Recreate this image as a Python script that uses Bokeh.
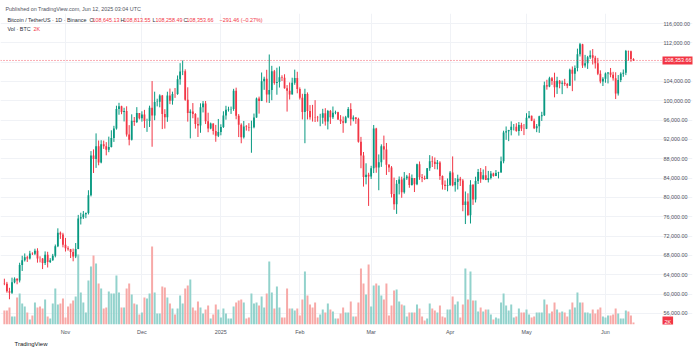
import pandas as pd
from bokeh.plotting import figure
from bokeh.models import (Range1d, ColumnDataSource, FixedTicker, NumeralTickFormatter,
                          DatetimeTickFormatter, Label, Span, Title)
from bokeh.embed import file_html
from bokeh.resources import INLINE

# ---------------- data (BTCUSDT, Binance, 1D) ----------------
dates = pd.date_range("2024-10-08", "2025-06-12", freq="D")

opens = [
    # Oct
    62224, 62131, 60583, 60274, 62445, 63193, 62851, 66046, 67041, 67612, 67399, 68418, 68362, 69001, 67367, 67361, 66432, 68161, 66642, 67014, 67929, 69907, 72720, 72339,
    # Nov
    70215, 69482, 69289, 68741, 67811, 69359, 75639, 75904, 76545, 76778, 80474, 88701, 87955, 90585, 87250, 91032, 90587, 89855, 90464, 92310, 94287, 98318, 98893, 97673, 97900, 93010, 91966, 95863, 95644, 97461,
    # Dec
    96407, 97185, 95840, 95849, 98587, 96945, 99740, 99831, 101109, 97276, 96593, 101125, 100000, 101424, 101420, 104463, 106058, 106133, 100204, 97461, 97805, 97291, 95186, 94881, 98663, 99429, 95791, 94299, 95300, 93738, 92792,
    # Jan
    93576, 94591, 96984, 98174, 98236, 98314, 102078, 96922, 95043, 92484, 94701, 94566, 94488, 94516, 96534, 100504, 99987, 104077, 104556, 101331, 102260, 106143, 103706, 103910, 104871, 104796, 102620, 102082, 101335, 103733, 104722,
    # Feb
    102429, 100635, 97700, 101406, 97871, 96615, 96593, 96529, 96482, 96500, 97437, 95748, 97882, 96624, 97509, 97627, 96118, 95780, 95467, 96579, 98305, 96181, 96551, 96258, 91552, 88680, 84250, 84708,
    # Mar
    84350, 86065, 94270, 86220, 87281, 90606, 89931, 86801, 86222, 80735, 78600, 82862, 83722, 81066, 83969, 84343, 82580, 84010, 82716, 86854, 84167, 84043, 83832, 86054, 87498, 87392, 86909, 87232, 84424, 82649, 82390,
    # Apr
    82548, 85159, 82516, 83213, 83889, 83538, 78430, 79163, 76322, 82615, 79607, 83423, 85276, 83760, 84591, 83643, 84030, 84947, 84474, 85077, 85179, 87516, 93442, 93691, 93980, 94638, 94660, 93754, 94978, 94284,
    # May
    94207, 96492, 96910, 95891, 94315, 94748, 96802, 97033, 103242, 102971, 104696, 104106, 102812, 104169, 103539, 103744, 103489, 103126, 106454, 105606, 106791, 109643, 111696, 107318, 107761, 109004, 109434, 108938, 107781, 105589, 103985,
    # Jun
    104591, 105642, 105857, 105376, 104696, 101508, 104288, 105615, 105793, 110295, 110257, 108645.13,
]

highs = [
    63200, 62543, 61320, 63417, 63480, 63285, 66500, 67950, 68424, 67939, 68969, 68667, 69400, 69500, 67836, 67451, 68850, 68770, 67454, 68332, 70270, 73620, 72961, 72700,
    71632, 69914, 69362, 69433, 70577, 76400, 76849, 77199, 76900, 81500, 89604, 89956, 93265, 91790, 91850, 91779, 91449, 92594, 93905, 94831, 98988, 99588, 98984, 98564, 98871, 94973, 97208, 96650, 98693, 97463,
    97836, 98130, 96305, 99000, 104088, 101898, 100439, 101351, 101215, 98270, 101888, 102540, 101895, 102650, 105250, 107793, 108353, 106524, 102800, 98233, 99540, 97448, 96538, 99487, 99960, 99963, 97544, 95500, 95340, 95024, 96250,
    95149, 97839, 98976, 98778, 98813, 102482, 102724, 97258, 95349, 95836, 94977, 95378, 95900, 97371, 100681, 100873, 105865, 104988, 106422, 109588, 107240, 106394, 106850, 107120, 105286, 105500, 103260, 103800, 104782, 106457, 106012,
    102783, 101456, 102500, 101740, 99120, 99167, 100137, 96880, 97323, 98345, 98478, 98119, 98112, 98826, 97974, 97737, 97046, 96753, 96889, 98711, 99504, 96980, 96650, 96500, 92540, 89414, 87078, 85120,
    86558, 95000, 94416, 88911, 91000, 92810, 91283, 86897, 86500, 84123, 83617, 84358, 84300, 85263, 84672, 85051, 84756, 84021, 87000, 87453, 84850, 84513, 86094, 88765, 88539, 88275, 87756, 87515, 84569, 83534, 83943,
    85487, 88500, 83998, 84720, 84266, 83817, 81243, 80867, 83588, 82753, 84300, 85905, 86100, 85799, 86496, 85500, 85470, 85132, 85677, 85320, 88465, 93817, 94696, 94000, 95758, 95199, 95369, 95630, 95461, 95200,
    97437, 97895, 96943, 96317, 95199, 96920, 97732, 103971, 104361, 104984, 104938, 105819, 104976, 104300, 104192, 104550, 103709, 106660, 107108, 107320, 110797, 111980, 111800, 109506, 109299, 110422, 110718, 109313, 108891, 106313, 104900,
    105866, 105935, 106794, 106000, 105909, 105333, 105900, 106488, 110530, 110400, 110384, 108813.55,
]

lows = [
    61860, 60301, 58946, 60050, 62251, 62050, 62422, 64800, 66750, 66666, 67177, 68100, 68082, 66518, 66571, 65188, 66034, 65520, 66439, 66913, 67618, 69730, 71436, 69685,
    68820, 69000, 67478, 66803, 67458, 69298, 74416, 75560, 75714, 76492, 80216, 85072, 86127, 86668, 87073, 90057, 88722, 89376, 90357, 91500, 94040, 97122, 97232, 95734, 92600, 90791, 91792, 94827, 95407, 96150,
    95693, 94395, 93578, 94587, 90500, 95981, 98844, 98657, 94150, 94256, 95658, 99311, 99205, 100609, 101237, 103333, 105321, 100000, 95700, 92232, 96398, 94250, 92520, 93390, 97600, 95200, 93500, 94117, 93010, 91530, 92500,
    92870, 94392, 96100, 97781, 97291, 97926, 96181, 92500, 91220, 92206, 93840, 93712, 89256, 94310, 96500, 97352, 99950, 102277, 99651, 99550, 100119, 103339, 101262, 102750, 104106, 102520, 97777, 100272, 101328, 103320, 101560,
    100279, 96150, 91231, 96150, 96101, 95708, 95620, 95688, 94746, 95256, 94876, 94088, 95217, 96252, 97223, 96046, 95205, 93388, 95350, 96415, 94871, 95771, 95235, 91350, 86050, 82256, 82716, 78258,
    83824, 85050, 85117, 81500, 86334, 87836, 84667, 85248, 80000, 77459, 76606, 80635, 79939, 80797, 83639, 82017, 82456, 81134, 82547, 83655, 83175, 83647, 83794, 85519, 86310, 85860, 85800, 83646, 81644, 81565, 81278,
    82432, 82320, 81211, 81659, 82379, 77153, 74508, 76239, 74620, 78464, 78972, 82792, 83034, 83678, 83600, 83111, 83736, 84303, 84418, 83949, 85144, 87076, 91935, 91660, 92855, 93870, 93602, 92800, 93742, 92910,
    94153, 96350, 95800, 94151, 93514, 93377, 95837, 96876, 102316, 102818, 103300, 100719, 101429, 102600, 101383, 103100, 102612, 103105, 102000, 104184, 106100, 109177, 106800, 106875, 106600, 108670, 107516, 106682, 105322, 103621, 103068,
    103752, 103600, 104872, 104179, 100372, 101095, 103871, 104964, 105318, 108331, 108086, 108258.49,
]

closes = [
    62131, 60583, 60274, 62445, 63193, 62851, 66046, 67041, 67612, 67399, 68418, 68362, 69001, 67367, 67361, 66432, 68161, 66642, 67014, 67929, 69907, 72720, 72339, 70215,
    69482, 69289, 68741, 67811, 69359, 75639, 75904, 76545, 76778, 80474, 88701, 87955, 90585, 87250, 91032, 90587, 89855, 90464, 92310, 94287, 98318, 98893, 97673, 97900, 93010, 91966, 95863, 95644, 97461, 96407,
    97185, 95840, 95849, 98587, 96945, 99740, 99831, 101109, 97276, 96593, 101125, 100000, 101424, 101420, 104463, 106058, 106133, 100204, 97461, 97805, 97291, 95186, 94881, 98663, 99429, 95791, 94299, 95300, 93738, 92792, 93576,
    94591, 96984, 98174, 98236, 98314, 102078, 96922, 95043, 92484, 94701, 94566, 94488, 94516, 96534, 100504, 99987, 104077, 104556, 101331, 102260, 106143, 103706, 103910, 104871, 104796, 102620, 102082, 101335, 103733, 104722, 102429,
    100635, 97700, 101406, 97871, 96615, 96593, 96529, 96482, 96500, 97437, 95748, 97882, 96624, 97509, 97627, 96118, 95780, 95467, 96579, 98305, 96181, 96551, 96258, 91552, 88680, 84250, 84708, 84350,
    86065, 94270, 86220, 87281, 90606, 89931, 86801, 86222, 80735, 78600, 82862, 83722, 81066, 83969, 84343, 82580, 84010, 82716, 86854, 84167, 84043, 83832, 86054, 87498, 87392, 86909, 87232, 84424, 82649, 82390, 82548,
    85159, 82516, 83213, 83889, 83538, 78430, 79163, 76322, 82615, 79607, 83423, 85276, 83760, 84591, 83643, 84030, 84947, 84474, 85077, 85179, 87516, 93442, 93691, 93980, 94638, 94660, 93754, 94978, 94284, 94207,
    96492, 96910, 95891, 94315, 94748, 96802, 97033, 103242, 102971, 104696, 104106, 102812, 104169, 103539, 103744, 103489, 103126, 106454, 105606, 106791, 109643, 111696, 107318, 107761, 109004, 109434, 108938, 107781, 105589, 103985, 104591,
    105642, 105857, 105376, 104696, 101508, 104288, 105615, 105793, 110295, 110257, 108645.13, 108353.66,
]

# daily volume (thousand BTC)
volumes = [
    14, 14, 17, 8, 8, 27, 31, 21, 18, 12, 5, 9, 22, 17, 18, 16, 25, 8, 6, 21, 36, 20, 21, 26, 7, 18, 21, 24, 28, 70, 32, 22, 12, 44, 58, 69, 61, 41, 36, 16, 17, 33, 31, 31, 49, 32, 17, 17, 36,
    41, 30, 21, 20, 10, 12, 27, 26, 31, 78, 32, 11, 11, 38, 37, 27, 21, 16, 10, 16, 29, 21, 36, 39, 45, 17, 14, 23, 17, 11, 15, 19, 6, 10, 20, 15, 7, 16, 11, 6, 6, 18, 22, 24, 25, 22, 6, 7, 31, 21,
    22, 19, 28, 17, 31, 63, 32, 16, 38, 17, 7, 7, 36, 16, 16, 14, 16, 9, 25, 53, 29, 20, 17, 22, 7, 10, 15, 12, 21, 15, 13, 6, 6, 11, 17, 12, 12, 23, 8, 8, 22, 56, 41, 30, 60, 18, 39, 41, 39, 29,
    25, 41, 9, 19, 34, 35, 23, 20, 19, 8, 12, 12, 12, 20, 16, 8, 4, 6, 21, 16, 14, 12, 19, 8, 7, 15, 15, 28, 20, 23, 7, 20, 56, 25, 53, 24, 24, 13, 17, 13, 15, 15, 10, 5, 7, 6, 22, 31, 19, 14,
    20, 7, 8, 16, 12, 12, 15, 10, 7, 8, 12, 12, 12, 25, 20, 11, 13, 22, 15, 12, 13, 12, 8, 15, 22, 17, 32, 22, 22, 12, 12, 11, 15, 11, 15, 17, 8, 7, 9, 9, 10, 16, 11, 6, 6, 14, 13, 9, 2,
]

month_ticks = ["2024-11-01", "2024-12-01", "2025-01-01", "2025-02-01",
               "2025-03-01", "2025-04-01", "2025-05-01", "2025-06-01"]
month_labels = ["Nov", "Dec", "2025", "Feb", "Mar", "Apr", "May", "Jun"]
price_ticks = [56000, 60000, 64000, 68000, 72000, 76000, 80000, 84000, 88000,
               92000, 96000, 100000, 104000, 108000, 112000, 116000]
hidden_price_ticks = [108000]   # covered by the last-price tag

legend_title = "Bitcoin / TetherUS · 1D · Binance"
legend_ohlc = ["108,645.13", "108,813.55", "108,258.49", "108,353.66"]
legend_change = "−291.46 (−0.27%)"
last_volume_text = "2K"

n = len(dates)
assert len(opens) == n and len(highs) == n and len(lows) == n and len(closes) == n and len(volumes) == n, \
    (n, len(opens), len(highs), len(lows), len(closes), len(volumes))

# ---------------- styling ----------------
UP, DOWN = "#089981", "#f23645"
VUP, VDOWN = "#92d2cc", "#f7a9a7"
FONT = "Liberation Sans"
TXT = "#2a2e39"
AX = "#50535e"
FS = "5.4px"

DAY = 24 * 3600 * 1000
to_ms = lambda s: int(pd.Timestamp(s).value // 10**6)
nov1 = to_ms("2024-11-01")

up = [c >= o for o, c in zip(opens, closes)]
src = ColumnDataSource(dict(
    x=dates, o=opens, h=highs, l=lows, c=closes, v=volumes,
    top=[max(o, c) for o, c in zip(opens, closes)],
    bot=[min(o, c) for o, c in zip(opens, closes)],
    col=[UP if u else DOWN for u in up],
    vcol=[VUP if u else VDOWN for u in up],
))

# frame spans x 0..692 px; price scale labels drawn over its right strip
p = figure(width=700, height=351, x_axis_type="datetime", y_axis_location="right",
           x_range=Range1d(nov1 - 25.52 * DAY, nov1 + 246.17 * DAY),
           y_range=Range1d(53724, 118069),
           output_backend="svg", toolbar_location=None, title=None,
           min_border_left=0, min_border_right=8, min_border_top=13, min_border_bottom=27,
           background_fill_color="white", border_fill_color="white", outline_line_color=None)

p.extra_y_ranges = {"vol": Range1d(0, 311)}

# grid
p.xgrid.grid_line_color = "#f0f2f6"
p.ygrid.grid_line_color = "#f0f2f6"

# volume
p.vbar(x="x", top="v", bottom=0, width=0.78 * DAY, fill_color="vcol", line_color=None,
       source=src, y_range_name="vol")

# candles
p.segment(x0="x", y0="h", x1="x", y1="l", line_color="col", line_width=1, source=src)
p.vbar(x="x", top="top", bottom="bot", width=0.7 * DAY, fill_color="col", line_color=None, source=src)

# last price line
p.add_layout(Span(location=closes[-1], dimension="width", line_color=DOWN,
                  line_dash="1 2", line_width=1, line_alpha=0.8))

# axes
ya = p.yaxis[0]
ya.ticker = FixedTicker(ticks=price_ticks)
ya.formatter = NumeralTickFormatter(format="0,0.00")
ya.major_label_overrides = {t: "" for t in hidden_price_ticks}
ya.axis_line_color = None
ya.major_tick_line_color = None
ya.minor_tick_line_color = None
ya.major_tick_out = 0
ya.major_tick_in = 0
ya.major_label_standoff = -29
ya.major_label_text_font_size = FS
ya.major_label_text_color = AX
ya.major_label_text_font = FONT

tick_ms = [to_ms(t) for t in month_ticks]
xa = p.xaxis[0]
xa.ticker = FixedTicker(ticks=tick_ms)
xa.formatter = DatetimeTickFormatter(days="%b", months="%b", years="%Y")
xa.major_label_overrides = {t: lab for t, lab in zip(tick_ms, month_labels)}
xa.axis_line_color = None
xa.major_tick_line_color = None
xa.minor_tick_line_color = None
xa.major_tick_out = 0
xa.major_tick_in = 0
xa.major_label_standoff = 4
xa.major_label_text_font_size = FS
xa.major_label_text_color = AX
xa.major_label_text_font = FONT

# header and footer as titles
p.add_layout(Title(text="Published on TradingView.com, Jun 12, 2025 03:04 UTC", align="left",
                   offset=5, standoff=3, text_font_size=FS, text_font=FONT,
                   text_font_style="normal", text_color="#50535e"), "above")
p.add_layout(Title(text="TradingView", align="left", offset=14, standoff=2,
                   text_font_size="6px", text_font=FONT, text_font_style="normal",
                   text_color="#131722"), "below")


def lab(x, y, text, color=TXT, size=FS, style="normal"):
    p.add_layout(Label(x=x, y=y, x_units="screen", y_units="screen", text=text,
                       text_baseline="middle", text_font_size=size, text_font=FONT,
                       text_color=color, text_font_style=style))

# legend
lab(7, 305, legend_title)
for letter, x_l, val, x_v in zip("OHLC", [89, 120, 152, 183], legend_ohlc, [92, 123, 155, 186]):
    lab(x_l, 305, letter)
    lab(x_v, 305, val, color=DOWN)
lab(219, 305, legend_change, color=DOWN)
lab(7, 296, "Vol · BTC")
lab(33, 296, last_volume_text, color=DOWN)

# price tags on scale
p.add_layout(Label(x=662, y=closes[-1], x_units="screen", text=legend_ohlc[3],
                   text_baseline="middle", text_font_size=FS, text_font=FONT,
                   text_color="white", background_fill_color=DOWN, padding=2))
p.add_layout(Label(x=662, y=volumes[-1] + 1, x_units="screen", y_range_name="vol",
                   text=last_volume_text, text_baseline="middle", text_font_size=FS,
                   text_font=FONT, text_color="white", background_fill_color=DOWN, padding=2))

open("out.html", "w").write(file_html(p, INLINE))
